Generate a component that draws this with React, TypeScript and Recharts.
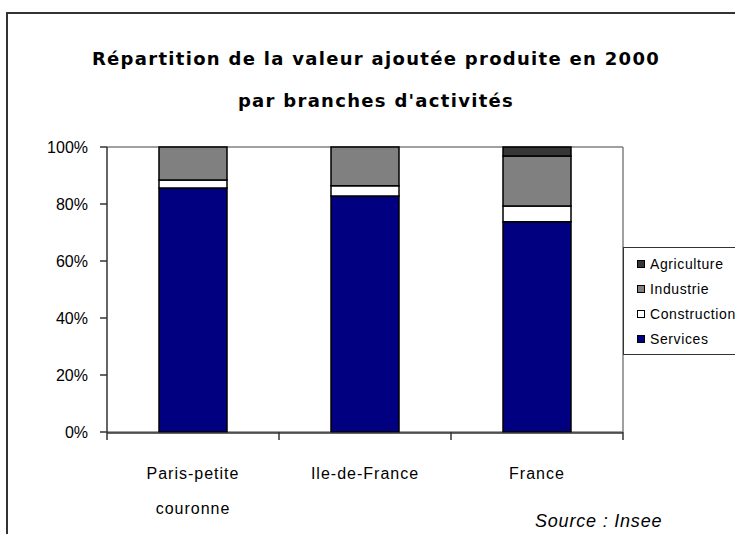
import React from "react";
import { BarChart, Bar, XAxis, YAxis, CartesianGrid, Legend } from "recharts";

// shares of value added (%)
const categories = ["Paris-petite couronne", "Ile-de-France", "France"];
const services = [85.6, 82.8, 73.8];
const construction = [2.8, 3.6, 5.5];
const industrie = [11.6, 13.6, 17.5];
const agriculture = [0, 0, 3.2];
const yTicks = [0, 20, 40, 60, 80, 100];
const bandEdges = [0, 1, 2, 3];

const series = [
  { key: "services", name: "Services", color: "#000080" },
  { key: "construction", name: "Construction", color: "#ffffff" },
  { key: "industrie", name: "Industrie", color: "#808080" },
  { key: "agriculture", name: "Agriculture", color: "#363636" },
];
const legendOrder = ["Agriculture", "Industrie", "Construction", "Services"];

const data = categories.map((name, i) => ({
  name,
  idx: i + 0.5,
  services: services[i],
  construction: construction[i],
  industrie: industrie[i],
  agriculture: agriculture[i],
}));

const FONT = "'Liberation Sans', Arial, sans-serif";
const TITLE_FONT = "'DejaVu Sans', Verdana, sans-serif";

function CategoryTick(props: any) {
  const { x, y, payload } = props;
  const lines = String(payload.value).split(" ");
  return (
    <g>
      {lines.map((ln, i) => (
        <text
          key={i}
          x={x}
          y={y + 46 + i * 35}
          textAnchor="middle"
          fill="#000"
          fontSize={16}
          fontFamily={FONT}
          letterSpacing={1}
        >
          {ln}
        </text>
      ))}
    </g>
  );
}

function LegendBox(props: any) {
  const items = [...(props.payload || [])].sort(
    (a: any, b: any) => legendOrder.indexOf(a.value) - legendOrder.indexOf(b.value)
  );
  return (
    <div
      style={{
        border: "1px solid #333",
        background: "#fff",
        padding: "3px 0 3px 13px",
        width: 140,
        boxSizing: "border-box",
      }}
    >
      {items.map((it: any) => (
        <div
          key={it.value}
          style={{
            display: "flex",
            alignItems: "center",
            height: 25,
            fontFamily: FONT,
            fontSize: 14,
            letterSpacing: 0.6,
            color: "#000",
            whiteSpace: "nowrap",
          }}
        >
          <span
            style={{
              display: "inline-block",
              width: 6,
              height: 6,
              border: "1px solid #000",
              background: it.color,
              marginRight: 5,
            }}
          />
          {it.value}
        </div>
      ))}
    </div>
  );
}

export default function App() {
  return (
    <div
      style={{
        position: "absolute",
        left: 0,
        top: 0,
        width: 735,
        height: 534,
        overflow: "hidden",
        background: "#fff",
      }}
    >
      <div
        style={{
          position: "absolute",
          left: 6,
          top: 12,
          width: 800,
          height: 600,
          border: "2px solid #333",
        }}
      />
      <div
        style={{
          position: "absolute",
          left: 0,
          top: 38,
          width: 752,
          textAlign: "center",
          fontFamily: TITLE_FONT,
          fontWeight: "bold",
          fontSize: 18,
          letterSpacing: 1.3,
          lineHeight: "42px",
          color: "#000",
        }}
      >
        Répartition de la valeur ajoutée produite en 2000
        <br />
        par branches d'activités
      </div>
      <BarChart
        width={735}
        height={534}
        data={data}
        margin={{ top: 147, right: 112, bottom: 42, left: 0 }}
        barCategoryGap={52}
        style={{ position: "absolute", left: 0, top: 0 }}
      >
        <CartesianGrid
          stroke="#808080"
          strokeWidth={1.5}
          verticalCoordinatesGenerator={({ offset }: any) => [offset.left + offset.width]}
        />
        <XAxis
          xAxisId="a"
          type="number"
          dataKey="idx"
          domain={[0, 3]}
          ticks={bandEdges}
          tick={() => <g />}
          tickLine={{ stroke: "#333", strokeWidth: 1.5 }}
          tickSize={8}
          axisLine={false}
          height={1}
        />
        <XAxis
          xAxisId="b"
          dataKey="name"
          tick={<CategoryTick />}
          tickLine={false}
          tickSize={0}
          tickMargin={0}
          axisLine={{ stroke: "#333", strokeWidth: 1.5 }}
          height={59}
          interval={0}
        />
        <YAxis
          yAxisId="left"
          domain={[0, 100]}
          ticks={yTicks}
          tickFormatter={(v) => `${v}%`}
          tick={{ fill: "#000", fontSize: 16, fontFamily: FONT }}
          tickLine={{ stroke: "#333", strokeWidth: 1.5 }}
          tickSize={7}
          tickMargin={12}
          axisLine={{ stroke: "#333", strokeWidth: 1.5 }}
          width={107}
        />
        {series.map((s) => (
          <Bar
            key={s.key}
            xAxisId="b"
            yAxisId="left"
            dataKey={s.key}
            name={s.name}
            stackId="a"
            fill={s.color}
            stroke="#000"
            strokeWidth={1.5}
            isAnimationActive={false}
          />
        ))}
        <Legend
          layout="vertical"
          align="center"
          verticalAlign="middle"
          content={<LegendBox />}
          wrapperStyle={{ position: "absolute", left: 623, top: 247, width: 140 }}
        />
      </BarChart>
      <div
        style={{
          position: "absolute",
          left: 535,
          top: 511,
          fontFamily: FONT,
          fontStyle: "italic",
          fontSize: 18,
          letterSpacing: 0.8,
          color: "#000",
        }}
      >
        Source : Insee
      </div>
    </div>
  );
}
